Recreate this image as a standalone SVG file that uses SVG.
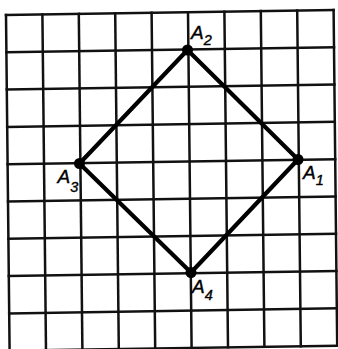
<svg xmlns="http://www.w3.org/2000/svg" width="338" height="349" viewBox="0 0 338 349">
<style>
.grid line{stroke:#111;stroke-width:2.5;stroke-linecap:square}
.edge{stroke:#000;stroke-width:4.2;stroke-linecap:round;fill:none}
.dot{fill:#000}
.lbl{font-family:"Liberation Sans","DejaVu Sans",sans-serif;font-style:italic;font-size:19px;fill:#000;stroke:#000;stroke-width:0.4}
.sub{font-size:14.5px}
</style>
<rect width="338" height="349" fill="#fff"/>
<g id="grid" class="grid">
<line x1="6" y1="15" x2="9.6" y2="350.7"/>
<line x1="42.4" y1="14.44" x2="46" y2="350.14"/>
<line x1="78.8" y1="13.88" x2="82.4" y2="349.58"/>
<line x1="115.2" y1="13.32" x2="118.8" y2="349.02"/>
<line x1="151.6" y1="12.76" x2="155.2" y2="348.46"/>
<line x1="188" y1="12.2" x2="191.6" y2="347.9"/>
<line x1="224.4" y1="11.64" x2="228" y2="347.34"/>
<line x1="260.8" y1="11.08" x2="264.4" y2="346.78"/>
<line x1="297.2" y1="10.52" x2="300.8" y2="346.22"/>
<line x1="333.6" y1="9.96" x2="337.2" y2="345.66"/>
<line x1="6" y1="15" x2="333.6" y2="9.96"/>
<line x1="6.4" y1="52.3" x2="334" y2="47.26"/>
<line x1="6.8" y1="89.6" x2="334.4" y2="84.56"/>
<line x1="7.2" y1="126.9" x2="334.8" y2="121.86"/>
<line x1="7.6" y1="164.2" x2="335.2" y2="159.16"/>
<line x1="8" y1="201.5" x2="335.6" y2="196.46"/>
<line x1="8.4" y1="238.8" x2="336" y2="233.76"/>
<line x1="8.8" y1="276.1" x2="336.4" y2="271.06"/>
<line x1="9.2" y1="313.4" x2="336.8" y2="308.36"/>
<line x1="9.6" y1="350.7" x2="337.2" y2="345.66"/>
</g>
<g id="connectors">
<line class="edge" x1="298" y1="159.5" x2="187.5" y2="50"/>
<line class="edge" x1="187.5" y1="50" x2="79.5" y2="163.5"/>
<line class="edge" x1="79.5" y1="163.5" x2="191" y2="272.5"/>
<line class="edge" x1="191" y1="272.5" x2="298" y2="159.5"/>
</g>
<g id="A1">
<circle class="dot" cx="298" cy="159.5" r="5.5"/>
<text class="lbl" x="303" y="178.5">A<tspan class="sub" dy="6.5">1</tspan></text>
</g>
<g id="A2">
<circle class="dot" cx="187.5" cy="50" r="5.5"/>
<text class="lbl" x="191" y="38.5">A<tspan class="sub" dy="6.5">2</tspan></text>
</g>
<g id="A3">
<circle class="dot" cx="79.5" cy="163.5" r="5.5"/>
<text class="lbl" x="57.5" y="182.5">A<tspan class="sub" dy="9">3</tspan></text>
</g>
<g id="A4">
<circle class="dot" cx="191" cy="272.5" r="5.5"/>
<text class="lbl" x="192" y="293">A<tspan class="sub" dy="7">4</tspan></text>
</g>
</svg>
